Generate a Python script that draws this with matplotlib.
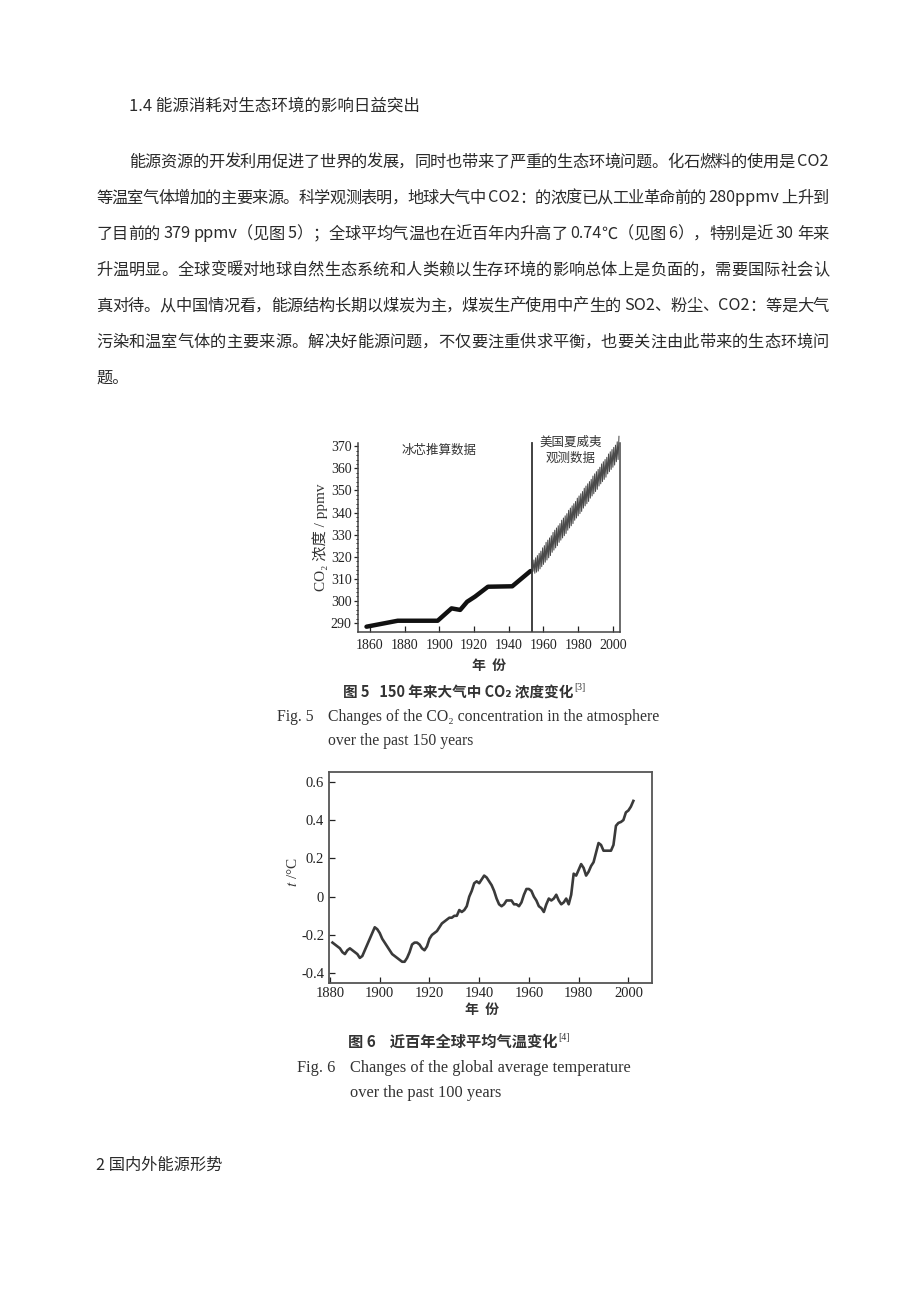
import re
import numpy as np
import matplotlib
matplotlib.use("Agg")
import matplotlib.pyplot as plt

plt.rcParams['font.family'] = ['Noto Sans CJK SC', 'DejaVu Sans']
plt.rcParams['mathtext.fontset'] = 'stix'

W, H = 920, 1302
CJK = ['Noto Sans CJK SC', 'DejaVu Sans']
SERIF = ['Liberation Serif', 'Noto Sans CJK SC', 'DejaVu Sans']

# ---- page text ----
heading = "1.4 能源消耗对生态环境的影响日益突出"
body_lines = [
    "能源资源的开发利用促进了世界的发展，同时也带来了严重的生态环境问题。化石燃料的使用是 CO2",
    "等温室气体增加的主要来源。科学观测表明，地球大气中 CO2：的浓度已从工业革命前的 280ppmv 上升到",
    "了目前的 379 ppmv（见图 5）；全球平均气温也在近百年内升高了 0.74℃（见图 6），特别是近 30 年来",
    "升温明显。全球变暖对地球自然生态系统和人类赖以生存环境的影响总体上是负面的，需要国际社会认",
    "真对待。从中国情况看，能源结构长期以煤炭为主，煤炭生产使用中产生的 SO2、粉尘、CO2：等是大气",
    "污染和温室气体的主要来源。解决好能源问题，不仅要注重供求平衡，也要关注由此带来的生态环境问",
    "题。",
]
next_heading = "2 国内外能源形势"

# ---- fig 5 data: CO2 ----
ice_year = [1858, 1876, 1899, 1907, 1912, 1916, 1920.5, 1928, 1942, 1952.5]
ice_ppmv = [288.3, 291.0, 291.0, 296.6, 295.9, 299.6, 301.9, 306.4, 306.6, 313.5]

ml_year = list(range(1954, 2004))
ml_trough = [313.5, 312.5, 313.0, 313.5, 314.5, 315.5, 316.5, 317.5, 318.5, 319.5,
             320.5, 322.0, 323.0, 324.0, 325.0, 326.5, 327.5, 328.5, 329.5, 330.5,
             332.0, 333.0, 334.0, 335.0, 336.5, 337.5, 338.5, 339.5, 340.5, 342.0,
             343.0, 344.0, 345.0, 346.5, 347.5, 348.5, 349.5, 350.5, 352.0, 353.0,
             354.0, 355.0, 356.0, 357.5, 358.5, 359.5, 360.5, 361.5, 363.0, 364.0]
ml_peak = [318.5, 319.5, 320.5, 321.5, 322.5, 324.0, 325.0, 326.5, 327.5, 328.5,
           329.5, 331.0, 332.0, 333.0, 334.0, 335.0, 336.5, 337.5, 338.5, 339.5,
           341.0, 342.0, 343.0, 344.0, 345.0, 346.5, 347.5, 348.5, 349.5, 351.0,
           352.0, 353.0, 354.0, 355.0, 356.5, 357.5, 358.5, 359.5, 360.5, 362.0,
           363.0, 364.0, 365.0, 366.5, 367.5, 368.5, 369.5, 370.5, 372.0, 374.5]
split_year = 1953.5
co2_xticks = [1860, 1880, 1900, 1920, 1940, 1960, 1980, 2000]
co2_yticks = [290, 300, 310, 320, 330, 340, 350, 360, 370]

# ---- fig 6 data: temperature anomaly ----
t_year = list(range(1881, 2003))
t_anom = [-0.24, -0.25, -0.26, -0.27, -0.29, -0.30, -0.28, -0.27, -0.28, -0.29,
          -0.30, -0.32, -0.31, -0.28, -0.25, -0.22, -0.19, -0.16, -0.17, -0.19,
          -0.22, -0.24, -0.26, -0.28, -0.30, -0.31, -0.32, -0.33, -0.34, -0.34,
          -0.32, -0.29, -0.25, -0.24, -0.24, -0.25, -0.27, -0.28, -0.26, -0.22,
          -0.20, -0.19, -0.18, -0.16, -0.14, -0.13, -0.12, -0.11, -0.11, -0.10,
          -0.10, -0.07, -0.08, -0.07, -0.05, 0.00, 0.03, 0.07, 0.08, 0.07,
          0.09, 0.11, 0.10, 0.08, 0.06, 0.03, -0.01, -0.04, -0.05, -0.04,
          -0.02, -0.02, -0.02, -0.04, -0.04, -0.05, -0.03, 0.01, 0.04, 0.04,
          0.03, 0.00, -0.02, -0.05, -0.06, -0.08, -0.04, -0.01, -0.02, -0.01,
          0.01, -0.02, -0.04, -0.03, -0.01, -0.04, 0.01, 0.12, 0.11, 0.14,
          0.17, 0.15, 0.11, 0.13, 0.16, 0.18, 0.23, 0.28, 0.27, 0.24,
          0.24, 0.24, 0.24, 0.27, 0.37, 0.385, 0.39, 0.40, 0.44, 0.45,
          0.47, 0.50]
t_xticks = [1880, 1900, 1920, 1940, 1960, 1980, 2000]
t_yticks = [-0.4, -0.2, 0, 0.2, 0.4, 0.6]
t_ylabels = ["-0.4", "-0.2", "0", "0.2", "0.4", "0.6"]

fig = plt.figure(figsize=(W / 100, H / 100), dpi=100)
renderer = fig.canvas.get_renderer()
INK = '#2a2a2a'


def px(x, y):
    return x / W, 1 - y / H


def put(s, x, y, **kw):
    kw.setdefault('va', 'center')
    return fig.text(*px(x, y), s, **kw)


def justify(s, x0, x1, y, size=11.7):
    # spread the pieces of one line so it fills x0..x1 like the page does
    toks = re.findall(r'[A-Za-z0-9.]+|.', s)
    ts = [put(t, 0, y, fontsize=size, color=INK, family=CJK) for t in toks]
    ws = [t.get_window_extent(renderer).width for t in ts]
    gap = (x1 - x0 - sum(ws)) / (len(ts) - 1)
    x = x0
    for t, w in zip(ts, ws):
        t.set_position(px(x, y))
        x += w + gap


put(heading, 129, 106, fontsize=11.9, color=INK, family=CJK)
line_y = [162, 198, 234, 270, 306, 342, 378]
for i, s in enumerate(body_lines):
    x0 = 129 if i == 0 else 96
    if i < len(body_lines) - 1:
        justify(s, x0, 829, line_y[i])
    else:
        put(s, x0, line_y[i], fontsize=11.7, color=INK, family=CJK)
put(next_heading, 96, 1165, fontsize=11.7, color=INK, family=CJK)

# ---------------- Fig 5 ----------------
ax1 = fig.add_axes([358 / W, 1 - 632 / H, 262 / W, 197 / H])
ax1.plot(ice_year, ice_ppmv, color='#111111', lw=3.2, solid_joinstyle='round',
         solid_capstyle='round')
ml_x, ml_y = [], []
for yr, lo, hi in zip(ml_year, ml_trough, ml_peak):
    ml_x += [yr, yr + 0.5]
    ml_y += [lo, hi]
ax1.plot(ml_x, ml_y, color='#4a4a4a', lw=0.75, clip_on=False)
ax1.set_xlim(1853.1, 2004.1)
ax1.set_ylim(285.9, 375.1)
top_frac = (371.5 - 285.9) / (375.1 - 285.9)
ax1.axvline(split_year, ymax=top_frac, color='#333333', lw=1.3)
ax1.spines['top'].set_visible(False)
ax1.spines['left'].set_bounds(285.9, 371.5)
ax1.spines['right'].set_bounds(285.9, 371.5)
for sp in ax1.spines.values():
    sp.set_color('#444444')
    sp.set_linewidth(1.1)
ax1.set_xticks(co2_xticks)
ax1.set_yticks(co2_yticks)
ax1.set_yticks(np.arange(290, 372, 2), minor=True)
ax1.tick_params(axis='y', direction='out', length=3, width=0.9, labelsize=10,
                colors='#222222', pad=1.5)
ax1.tick_params(axis='y', which='minor', direction='out', length=1.5, width=0.6)
ax1.tick_params(axis='x', direction='in', length=4, width=0.9, labelsize=10,
                colors='#222222', pad=5)
for lb in ax1.get_xticklabels() + ax1.get_yticklabels():
    lb.set_family(SERIF)
ax1.patch.set_alpha(0)
ax1.text(1899.5, 368.3, "冰芯推算数据", fontsize=9, color='#333333', ha='center',
         va='center', family=CJK)
ax1.text(1975.5, 372.0, "美国夏威夷", fontsize=9, color='#333333', ha='center',
         va='center', family=CJK)
ax1.text(1975.5, 364.5, "观测数据", fontsize=9, color='#333333', ha='center',
         va='center', family=CJK)
put("CO₂ 浓度 / ppmv", 320, 537, fontsize=11, rotation=90, ha='center',
    color='#333333', family=SERIF)
put("年  份", 489, 666, fontsize=10, ha='center', color='#333333',
    weight='bold', family=CJK)

# captions fig 5
t = put("图 5   150 年来大气中 CO₂ 浓度变化", 343, 692, fontsize=10.5,
        color='#333333', weight='bold', family=CJK)
bb = t.get_window_extent(renderer)
put("[3]", bb.x1 + 1, 687, fontsize=7, color='#333333', family=SERIF)
put("Fig. 5", 277, 717, fontsize=11.3, color='#333333', family=SERIF)
put("Changes of the CO₂ concentration in the atmosphere", 328, 717, fontsize=11.3,
    color='#333333', family=SERIF)
put("over the past 150 years", 328, 741, fontsize=11.3, color='#333333',
    family=SERIF)

# ---------------- Fig 6 ----------------
ax2 = fig.add_axes([329 / W, 1 - 983 / H, 323 / W, 211 / H])
ax2.plot(t_year, t_anom, color='#3a3a3a', lw=1.9, solid_joinstyle='round')
ax2.set_xlim(1879.6, 2009.5)
ax2.set_ylim(-0.451, 0.651)
for sp in ax2.spines.values():
    sp.set_color('#555555')
    sp.set_linewidth(1.3)
ax2.set_xticks(t_xticks)
ax2.set_yticks(t_yticks)
ax2.set_yticklabels(t_ylabels)
ax2.tick_params(direction='in', length=4, width=0.9, labelsize=10.5,
                colors='#222222')
ax2.tick_params(axis='x', pad=3)
for lb in ax2.get_xticklabels() + ax2.get_yticklabels():
    lb.set_family(SERIF)
ax2.patch.set_alpha(0)
put(r"$t$ /°C", 293, 872, fontsize=11, rotation=90, ha='center',
    color='#333333', family=SERIF)
put("年  份", 482, 1010, fontsize=10, ha='center', color='#333333',
    weight='bold', family=CJK)

t = put("图 6    近百年全球平均气温变化", 348, 1042, fontsize=11,
        color='#333333', weight='bold', family=CJK)
bb = t.get_window_extent(renderer)
put("[4]", bb.x1 + 1, 1037, fontsize=7, color='#333333', family=SERIF)
put("Fig. 6", 297, 1068, fontsize=11.8, color='#333333', family=SERIF)
put("Changes of the global average temperature", 350, 1068, fontsize=11.8,
    color='#333333', family=SERIF)
put("over the past 100 years", 350, 1093, fontsize=11.8, color='#333333',
    family=SERIF)

fig.savefig("out.png", dpi=100, facecolor='white')
